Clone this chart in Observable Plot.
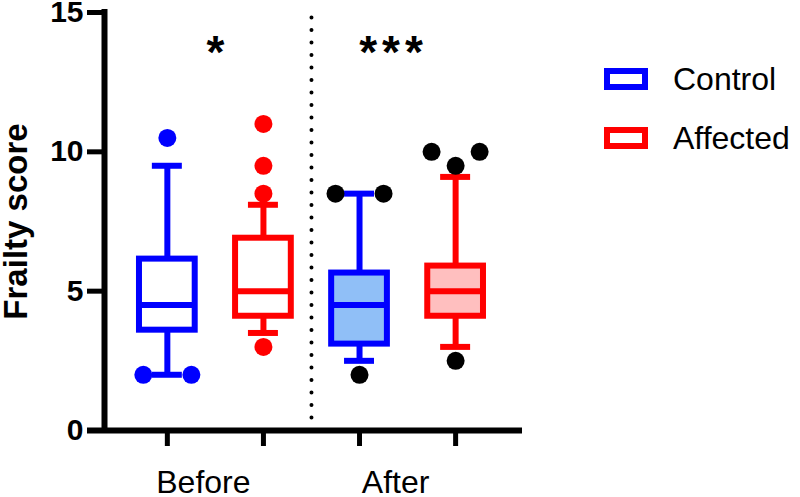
<!DOCTYPE html>
<html>
<head>
<meta charset="utf-8">
<script src="https://cdn.jsdelivr.net/npm/d3@7"></script>
<script src="https://cdn.jsdelivr.net/npm/@observablehq/plot@0.6"></script>
<style>
  html, body { margin: 0; padding: 0; background: white; }
  #wrap { position: relative; width: 800px; height: 497px; font-family: "Liberation Sans", Arial, sans-serif; }
  #legend { position: absolute; left: 604px; top: 68px; }
  .row { display: flex; align-items: center; height: 22px; margin-bottom: 37px; }
  .row span { font-size: 32px; margin-left: 25px; line-height: 22px; color: black; }
</style>
</head>
<body>
<div id="wrap"><div id="legend"></div></div>
<script>
// ---- data ----
const periods = ["Before", "After"];
const groups = ["Control", "Affected"];
const boxPeriod = ["Before", "Before", "After", "After"];
const boxGroup = ["Control", "Affected", "Control", "Affected"];
const whiskerLow = [2.0, 3.5, 2.5, 3.0];
const q1 = [3.6, 4.1, 3.1, 4.1];
const median = [4.5, 5.0, 4.5, 5.0];
const q3 = [6.15, 6.9, 5.65, 5.9];
const whiskerHigh = [9.5, 8.1, 8.5, 9.1];
const outlierBox = [0, 0, 0, 1, 1, 1, 1, 2, 2, 2, 3, 3, 3, 3];
const outlierValue = [10.5, 2, 2, 11, 9.5, 8.5, 3, 8.5, 8.5, 2, 10, 10, 9.5, 2.5];
const outlierSide = [0, -1, 1, 0, 0, 0, 0, -1, 1, 0, -1, 1, 0, 0];
const yTicks = [0, 5, 10, 15];
const significance = ["*", "***"];
const yLabel = "Frailty score";

// ---- styles ----
const groupColor = {Control: "#0000ff", Affected: "#ff0000"};
const groupFillAfter = {Control: "#90bff7", Affected: "#ffbfbf"};
const boxHalf = 0.29, capHalf = 0.156, spread = 0.25;
const xDomain = [-0.654, 3.696];
const font = "Liberation Sans, Arial, sans-serif";

const boxes = boxPeriod.map((p, i) => ({
  pos: i, period: p, group: boxGroup[i],
  whiskerLow: whiskerLow[i], q1: q1[i], median: median[i], q3: q3[i], whiskerHigh: whiskerHigh[i]
}));
const outliers = outlierBox.map((b, i) => ({
  pos: b, period: boxPeriod[b], group: boxGroup[b], value: outlierValue[i], side: outlierSide[i]
}));
const divider = [(boxes.length - 1) / 2];

const strokeOf = d => groupColor[d.group];
const fillOf = d => d.period === "After" ? groupFillAfter[d.group] : "white";

const chart = Plot.plot({
  width: 800,
  height: 497,
  marginLeft: 104,
  marginRight: 278,
  marginTop: 12,
  marginBottom: 67,
  style: {fontFamily: font, color: "black", background: "white"},
  x: {domain: xDomain},
  y: {domain: [0, 15]},
  color: {type: "identity"},
  marks: [
    // divider
    Plot.ruleX(divider, {y1: 0, y2: yTicks[yTicks.length - 1], stroke: "black", strokeWidth: 4,
      strokeDasharray: "0 12.5", strokeLinecap: "round"}),
    // whiskers
    Plot.ruleX(boxes, {x: "pos", y1: "whiskerLow", y2: "q1", stroke: strokeOf, strokeWidth: 6}),
    Plot.ruleX(boxes, {x: "pos", y1: "q3", y2: "whiskerHigh", stroke: strokeOf, strokeWidth: 6}),
    Plot.ruleY(boxes, {y: "whiskerLow", x1: d => d.pos - capHalf, x2: d => d.pos + capHalf, stroke: strokeOf, strokeWidth: 6}),
    Plot.ruleY(boxes, {y: "whiskerHigh", x1: d => d.pos - capHalf, x2: d => d.pos + capHalf, stroke: strokeOf, strokeWidth: 6}),
    // boxes
    Plot.rect(boxes, {x1: d => d.pos - boxHalf, x2: d => d.pos + boxHalf, y1: "q1", y2: "q3",
      fill: fillOf, stroke: strokeOf, strokeWidth: 6}),
    Plot.ruleY(boxes, {y: "median", x1: d => d.pos - boxHalf, x2: d => d.pos + boxHalf, stroke: strokeOf, strokeWidth: 6}),
    // outliers
    Plot.dot(outliers, {x: d => d.pos + d.side * spread, y: "value", r: 9,
      fill: d => d.period === "After" ? "black" : groupColor[d.group], stroke: "none"}),
    // significance
    Plot.text([significance[0]], {x: [0.5], y: [13], text: d => d, fontSize: 46, fontWeight: "bold", lineAnchor: "bottom"}),
    Plot.text([significance[1]], {x: [2.5], y: [13], text: d => d, fontSize: 46, fontWeight: "bold", lineAnchor: "bottom", dx: -14}),
    // axes lines
    Plot.ruleX([xDomain[0]], {y1: 0, y2: yTicks[yTicks.length - 1], stroke: "black", strokeWidth: 6, strokeLinecap: "square"}),
    Plot.ruleY([0], {insetLeft: -17, stroke: "black", strokeWidth: 6}),
    Plot.axisY({ticks: yTicks, tickSize: 17, tickPadding: 4, strokeWidth: 5, fontSize: 30, fontWeight: "bold", label: null}),
    Plot.axisX({ticks: boxes.map(d => d.pos), tickSize: 16, strokeWidth: 5, fill: "none", label: null}),
    Plot.axisX({ticks: periods.map((p, i) => i * 2 + 0.5), tickSize: 0, tickPadding: 40, fontSize: 32,
      tickFormat: v => periods[Math.round((v - 0.5) / 2)], label: null, dx: -12}),
    // y label
    Plot.text([yLabel], {frameAnchor: "left", rotate: -90, dx: -101, lineAnchor: "top", textAnchor: "middle",
      fontSize: 33, fontWeight: "bold"})
  ]
});

d3.select(chart).selectAll("text").filter(function () { return this.textContent === "***"; })
  .attr("letter-spacing", "5px");

document.getElementById("wrap").prepend(chart);

// legend
const legend = document.getElementById("legend");
groups.forEach(g => {
  const row = document.createElement("div");
  row.className = "row";
  row.innerHTML = `<svg width="44" height="22"><rect x="3" y="3" width="38" height="16" fill="white" stroke="${groupColor[g]}" stroke-width="6"/></svg><span>${g}</span>`;
  legend.appendChild(row);
});
</script>
</body>
</html>
